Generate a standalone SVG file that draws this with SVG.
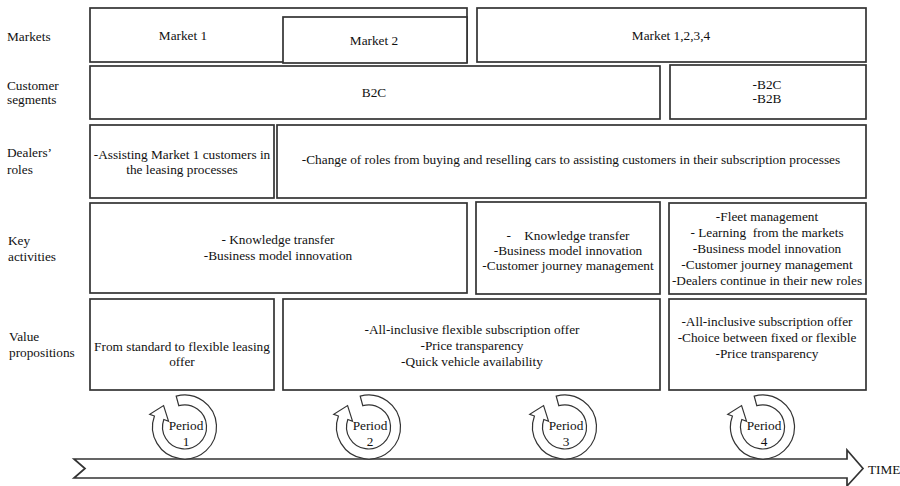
<svg xmlns="http://www.w3.org/2000/svg" width="900" height="486" viewBox="0 0 900 486">
<style>
.b{fill:#fff;stroke:#333;stroke-width:1.7}
.t{font-family:"Liberation Serif","Times New Roman","DejaVu Serif",serif;font-size:13.3px;fill:#111}
.c{text-anchor:middle}
.ring{fill:#fff;stroke:#333;stroke-width:1.2}
</style>
<defs>
<path id="cyc" d="M-8.3,-30.9 A32,32 0 1 1 -30.07,-10.94 L-34.77,-12.65 L-20.92,-21.45 L-15.97,-5.81 L-20.67,-7.52 A22,22 0 1 0 -5.7,-21.3 Z"/>
</defs>
<g id="labels" class="t">
<text x="7" y="41">Markets</text>
<text x="7" y="90">Customer</text>
<text x="7" y="104">segments</text>
<text x="7" y="157">Dealers’</text>
<text x="7" y="174">roles</text>
<text x="8" y="245">Key</text>
<text x="8" y="261">activities</text>
<text x="9" y="341">Value</text>
<text x="9" y="357">propositions</text>
</g>
<g id="market1"><rect class="b" x="90" y="8" width="377" height="54"/><text class="t c" x="183" y="40">Market 1</text></g>
<g id="market2"><rect class="b" x="283" y="17" width="184" height="46"/><text class="t c" x="374" y="45">Market 2</text></g>
<g id="market1234"><rect class="b" x="477" y="8" width="389" height="54"/><text class="t c" x="671" y="40">Market 1,2,3,4</text></g>
<g id="seg1"><rect class="b" x="90" y="66" width="570" height="53"/><text class="t c" x="374" y="97">B2C</text></g>
<g id="seg2"><rect class="b" x="670" y="65" width="196" height="54"/><text class="t c" x="767" y="89">-B2C</text><text class="t c" x="767" y="103">-B2B</text></g>
<g id="dealer1"><rect class="b" x="90" y="125" width="184" height="73"/><text class="t c" x="182" y="159">-Assisting Market 1 customers in</text><text class="t c" x="182" y="174">the leasing processes</text></g>
<g id="dealer2"><rect class="b" x="277" y="125" width="589" height="73"/><text class="t c" x="571" y="164">-Change of roles from buying and reselling cars to assisting customers in their subscription processes</text></g>
<g id="key1"><rect class="b" x="90" y="203" width="377" height="90"/><text class="t c" x="278" y="244" xml:space="preserve">- Knowledge transfer</text><text class="t c" x="278" y="260">-Business model innovation</text></g>
<g id="key2"><rect class="b" x="476" y="202" width="184" height="92"/><text class="t c" x="568" y="240" xml:space="preserve">-    Knowledge transfer</text><text class="t c" x="568" y="255">-Business model innovation</text><text class="t c" x="568" y="270">-Customer journey management</text></g>
<g id="key3"><rect class="b" x="669" y="203" width="197" height="91"/><text class="t c" x="767" y="221">-Fleet management</text><text class="t c" x="767" y="237" xml:space="preserve">- Learning  from the markets</text><text class="t c" x="767" y="253">-Business model innovation</text><text class="t c" x="767" y="269">-Customer journey management</text><text class="t c" x="767" y="285">-Dealers continue in their new roles</text></g>
<g id="vp1"><rect class="b" x="90" y="299" width="184" height="91"/><text class="t c" x="182" y="351">From standard to flexible leasing</text><text class="t c" x="182" y="366">offer</text></g>
<g id="vp2"><rect class="b" x="283" y="299" width="377" height="91"/><text class="t c" x="472" y="334">-All-inclusive flexible subscription offer</text><text class="t c" x="472" y="350">-Price transparency</text><text class="t c" x="472" y="366">-Quick vehicle availability</text></g>
<g id="vp3"><rect class="b" x="669" y="299" width="197" height="91"/><text class="t c" x="767" y="326">-All-inclusive subscription offer</text><text class="t c" x="767" y="342">-Choice between fixed or flexible</text><text class="t c" x="767" y="358">-Price transparency</text></g>
<g id="connectors">
<polygon class="b" points="74,459 847,459 847,450 863,468.5 847,486 847,478 74,478 85,468.5"/>
</g>
<g id="period1"><use href="#cyc" class="ring" transform="translate(184.5,427)"/><text class="t c" x="186" y="430">Period</text><text class="t c" x="186" y="446">1</text></g>
<g id="period2"><use href="#cyc" class="ring" transform="translate(368.5,427)"/><text class="t c" x="370" y="430">Period</text><text class="t c" x="370" y="446">2</text></g>
<g id="period3"><use href="#cyc" class="ring" transform="translate(564.5,427)"/><text class="t c" x="566" y="430">Period</text><text class="t c" x="566" y="446">3</text></g>
<g id="period4"><use href="#cyc" class="ring" transform="translate(762.5,427)"/><text class="t c" x="764" y="430">Period</text><text class="t c" x="764" y="446">4</text></g>
<g id="time"><text class="t" x="868" y="474">TIME</text></g>
</svg>
